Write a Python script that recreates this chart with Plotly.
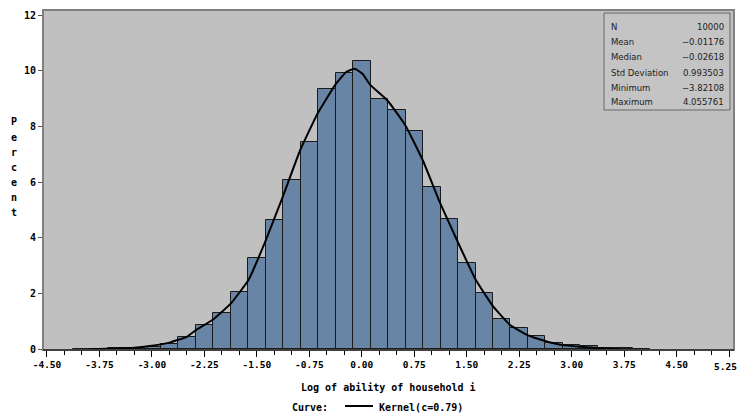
import plotly.graph_objects as go

# ---- data ----
bar_centers = [-4.0, -3.75, -3.5, -3.25, -3.0, -2.75, -2.5, -2.25, -2.0, -1.75, -1.5, -1.25,
               -1.0, -0.75, -0.5, -0.25, 0.0, 0.25, 0.5, 0.75, 1.0, 1.25, 1.5, 1.75,
               2.0, 2.25, 2.5, 2.75, 3.0, 3.25, 3.5, 3.75, 4.0]
bar_percent = [0.01, 0.02, 0.03, 0.06, 0.10, 0.19, 0.45, 0.86, 1.30, 2.06, 3.28, 4.63,
               6.09, 7.44, 9.34, 9.94, 10.34, 8.98, 8.59, 7.83, 5.84, 4.68, 3.10, 2.03,
               1.10, 0.75, 0.48, 0.22, 0.17, 0.11, 0.04, 0.03, 0.01]
bin_width = 0.25

kernel_x = [-3.9, -3.5, -3.25, -3.03, -2.75, -2.5, -2.37, -2.12, -1.87, -1.62, -1.38, -1.13,
            -0.88, -0.63, -0.38, -0.22, -0.10, 0.01, 0.12, 0.37, 0.62, 0.87, 1.12, 1.38,
            1.63, 1.88, 2.12, 2.37, 2.62, 2.87, 3.13, 3.40, 3.68]
kernel_y = [0.0, 0.03, 0.06, 0.12, 0.24, 0.45, 0.69, 1.08, 1.65, 2.49, 3.87, 5.48,
            7.16, 8.48, 9.50, 9.97, 10.08, 9.90, 9.50, 8.93, 8.06, 6.80, 5.25, 3.81,
            2.49, 1.53, 0.87, 0.51, 0.30, 0.15, 0.09, 0.04, 0.0]

x_tickvals = [-4.5, -3.75, -3.0, -2.25, -1.5, -0.75, 0.0, 0.75, 1.5, 2.25, 3.0, 3.75, 4.5, 5.25]
x_ticktext = ["-4.50", "-3.75", "-3.00", "-2.25", "-1.50", "-0.75", "0.00", "0.75",
              "1.50", "2.25", "3.00", "3.75", "4.50", "5.25"]
y_tickvals = [0, 2, 4, 6, 8, 10, 12]

stat_labels = ["N", "Mean", "Median", "Std Deviation", "Minimum", "Maximum"]
stat_values = ["10000", "\u22120.01176", "\u22120.02618", "0.993503", "\u22123.82108", "4.055761"]

x_title = "Log of ability of household i"
y_title = "Percent"
legend_label = "Kernel(c=0.79)"

# ---- figure ----
W, H = 739, 416
ml, mr, mt, mb = 43, 5, 10, 66
pw, ph = W - ml - mr, H - mt - mb

def px_x(p):
    return (p - ml) / pw

def px_y(p):
    return 1 - (p - mt) / ph

tickfont = dict(family="DejaVu Sans Mono", size=9.5, color="black", weight="bold")
ytickfont = dict(family="DejaVu Sans Mono", size=10, color="black", weight="bold")

# the last x tick label sits at the page edge: draw it as a right-anchored annotation
shown_ticktext = x_ticktext[:-1] + [""]

fig = go.Figure()
fig.add_trace(go.Bar(
    x=bar_centers, y=bar_percent, width=bin_width,
    marker=dict(color="#6985A6", line=dict(color="#1a1a1a", width=1)),
    showlegend=False, hoverinfo="skip"))
fig.add_trace(go.Scatter(
    x=kernel_x, y=kernel_y, mode="lines",
    line=dict(color="black", width=2, shape="spline", smoothing=0.35),
    showlegend=False, hoverinfo="skip"))

fig.update_layout(
    width=W, height=H,
    margin=dict(l=ml, r=mr, t=mt, b=mb, pad=0, autoexpand=False),
    paper_bgcolor="white", plot_bgcolor="#C0C0C0",
    bargap=0, showlegend=False,
    xaxis=dict(range=[-4.557, 5.32], tickmode="array", tickvals=x_tickvals, ticktext=shown_ticktext,
               ticks="outside", ticklen=6, tickcolor="black", tickwidth=1,
               automargin=False,
               showline=True, linecolor="black", linewidth=1, mirror=False,
               showgrid=False, zeroline=False, tickfont=tickfont,
               minor=dict(tickmode="linear", tick0=-4.5, dtick=0.25, ticks="outside",
                          ticklen=4, tickcolor="black", showgrid=False)),
    yaxis=dict(range=[-0.025, 12.19], tickmode="array", tickvals=y_tickvals,
               ticks="outside", ticklen=4, tickcolor="#555555", automargin=False,
               showline=False, showgrid=False, zeroline=False, tickfont=ytickfont),
)

fig.add_annotation(xref="paper", yref="paper", x=px_x(738.5), y=px_y(366),
                   text=x_ticktext[-1], showarrow=False, xanchor="right", yanchor="middle",
                   font=tickfont)

# plot frame
fig.add_shape(type="rect", xref="paper", yref="paper", x0=0, x1=1, y0=0, y1=1,
              line=dict(color="#808080", width=2), layer="above")
fig.add_shape(type="line", xref="paper", yref="paper", x0=0, x1=1, y0=0, y1=0,
              line=dict(color="black", width=1), layer="above")

# stats inset box
bx0, bx1, by0, by1 = 604, 730, 13, 110
fig.add_shape(type="rect", xref="paper", yref="paper",
              x0=px_x(bx0), x1=px_x(bx1), y0=px_y(by1), y1=px_y(by0),
              line=dict(color="#666666", width=1), fillcolor="#C4C4C4", layer="above")
row_y = [27, 42, 57.5, 72.5, 88, 102]
statfont = dict(family="DejaVu Sans", size=8.5, color="#222222")
for lab, val, ry in zip(stat_labels, stat_values, row_y):
    fig.add_annotation(xref="paper", yref="paper", x=px_x(bx0 + 5), y=px_y(ry),
                       text=lab, showarrow=False, xanchor="left", yanchor="middle", font=statfont)
    fig.add_annotation(xref="paper", yref="paper", x=px_x(bx1 - 4), y=px_y(ry),
                       text=val, showarrow=False, xanchor="right", yanchor="middle", font=statfont)

labfont = dict(family="DejaVu Sans Mono", size=10, color="black", weight="bold")
# x axis title
fig.add_annotation(xref="paper", yref="paper", x=0.5, y=px_y(387), text=x_title,
                   showarrow=False, xanchor="center", yanchor="middle", font=labfont)
# y axis title, stacked letters
for i, ch in enumerate(y_title):
    fig.add_annotation(xref="paper", yref="paper", x=px_x(14), y=px_y(122 + 15 * i),
                       text=ch, showarrow=False, xanchor="center", yanchor="middle", font=labfont)

# curve legend
fig.add_annotation(xref="paper", yref="paper", x=px_x(290), y=px_y(407), text="Curve:",
                   showarrow=False, xanchor="left", yanchor="middle", font=labfont)
fig.add_shape(type="line", xref="paper", yref="paper", x0=px_x(345), x1=px_x(373),
              y0=px_y(406), y1=px_y(406), line=dict(color="black", width=2))
fig.add_annotation(xref="paper", yref="paper", x=px_x(377), y=px_y(407), text=legend_label,
                   showarrow=False, xanchor="left", yanchor="middle", font=labfont)

fig.write_html("out.html")
